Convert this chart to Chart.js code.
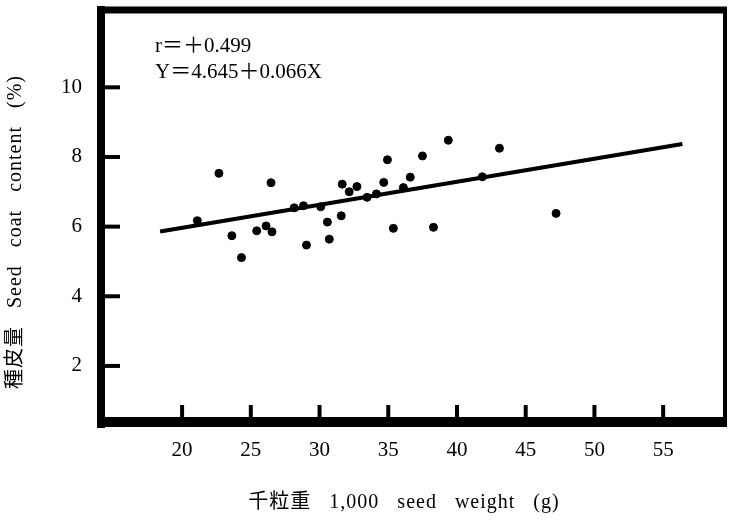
<!DOCTYPE html>
<html>
<head>
<meta charset="utf-8">
<script src="https://cdn.jsdelivr.net/npm/chart.js@4/dist/chart.umd.min.js"></script>
<style>
html,body{margin:0;padding:0;background:#fff;}
#wrap{width:730px;height:520px;}
</style>
</head>
<body>
<div id="wrap"><canvas id="c" width="730" height="520"></canvas></div>
<script>
// ---- data ----
const seedWeight = [22.68, 26.47, 21.11, 23.62, 25.43, 26.11, 26.54, 24.32, 28.16, 28.83, 30.09, 29.05, 30.71, 30.57, 31.58, 31.65, 32.16, 32.72, 33.46, 34.14, 34.67, 34.94, 35.37, 36.10, 36.60, 37.49, 38.29, 39.37, 41.84, 43.09, 47.21];
const coatContent = [7.53, 7.26, 6.17, 5.74, 5.88, 6.02, 5.85, 5.11, 6.54, 6.60, 6.57, 5.47, 5.64, 6.13, 6.31, 7.22, 7.00, 7.15, 6.84, 6.94, 7.27, 7.92, 5.95, 7.12, 7.42, 8.03, 5.98, 8.48, 7.43, 8.25, 6.38];
const fitLineX = [18.4, 56.4];
const fitLineY = [5.86, 8.37];
const xTickValues = [20, 25, 30, 35, 40, 45, 50, 55];
const yTickValues = [2, 4, 6, 8, 10];
const statLines = ['r\uFF1D\uFF0B0.499', 'Y\uFF1D4.645\uFF0B0.066X'];
const xTitle = '千粒重 1,000 seed weight (g)';
const yTitle = '種皮量 Seed coat content (%)';

const FONT = '"Liberation Serif", "Noto Sans CJK JP", serif';

const points = seedWeight.map((x, i) => ({x: x, y: coatContent[i]}));
const fitPts = fitLineX.map((x, i) => ({x: x, y: fitLineY[i]}));

const framePlugin = {
  id: 'frame',
  afterDatasetsDraw(chart) {
    const {ctx, chartArea: a, scales} = chart;
    ctx.save();
    ctx.strokeStyle = '#000';
    ctx.lineCap = 'butt';
    // frame
    ctx.lineWidth = 8;
    ctx.beginPath(); ctx.moveTo(a.left, a.top - 4); ctx.lineTo(a.left, a.bottom + 6); ctx.stroke();
    ctx.lineWidth = 7;
    ctx.beginPath(); ctx.moveTo(a.left - 4, a.top); ctx.lineTo(a.right + 2, a.top); ctx.stroke();
    ctx.lineWidth = 10;
    ctx.beginPath(); ctx.moveTo(a.left - 4, a.bottom); ctx.lineTo(a.right + 2, a.bottom); ctx.stroke();
    ctx.lineWidth = 4;
    ctx.beginPath(); ctx.moveTo(a.right, a.top); ctx.lineTo(a.right, a.bottom); ctx.stroke();
    // inward tick marks
    ctx.lineWidth = 4;
    scales.y.ticks.forEach(t => {
      const py = scales.y.getPixelForValue(t.value);
      ctx.beginPath(); ctx.moveTo(a.left, py); ctx.lineTo(a.left + 19, py); ctx.stroke();
    });
    scales.x.ticks.forEach(t => {
      const px = scales.x.getPixelForValue(t.value);
      ctx.beginPath(); ctx.moveTo(px, a.bottom); ctx.lineTo(px, a.bottom - 17); ctx.stroke();
    });
    // statistics text
    ctx.fillStyle = '#000';
    ctx.font = '21px ' + FONT;
    ctx.textAlign = 'left';
    ctx.textBaseline = 'alphabetic';
    ctx.fillText(statLines[0], a.left + 54, a.top + 42);
    ctx.fillText(statLines[1], a.left + 54, a.top + 68);
    // axis titles
    ctx.font = '20px ' + FONT;
    try { ctx.letterSpacing = '1px'; ctx.wordSpacing = '12px'; } catch (e) {}
    ctx.textAlign = 'center';
    ctx.textBaseline = 'middle';
    ctx.fillText(xTitle, 404, 503);
    ctx.translate(16, 232);
    ctx.rotate(-Math.PI / 2);
    ctx.fillText(yTitle, 0, 0);
    ctx.restore();
  }
};

new Chart(document.getElementById('c'), {
  type: 'scatter',
  data: {
    datasets: [
      {
        type: 'scatter',
        data: points,
        backgroundColor: '#000',
        borderColor: '#000',
        pointRadius: 4,
        pointHoverRadius: 4,
        order: 1
      },
      {
        type: 'line',
        data: fitPts,
        borderColor: '#000',
        borderWidth: 4,
        pointRadius: 0,
        fill: false,
        tension: 0,
        order: 2
      }
    ]
  },
  plugins: [framePlugin],
  options: {
    responsive: false,
    animation: false,
    devicePixelRatio: 1,
    layout: {padding: {top: 10, right: 4, left: 0, bottom: 0}},
    plugins: {legend: {display: false}, tooltip: {enabled: false}},
    scales: {
      x: {
        type: 'linear',
        min: 14.1,
        max: 59.5,
        grid: {display: false, drawTicks: false},
        border: {display: false},
        afterBuildTicks: s => { s.ticks = xTickValues.map(v => ({value: v})); },
        afterFit: s => { s.height = 98; s.paddingLeft = 0; s.paddingRight = 0; },
        ticks: {
          color: '#000',
          padding: 16,
          font: {family: FONT, size: 21},
          callback: v => String(v)
        }
      },
      y: {
        type: 'linear',
        min: 0.39,
        max: 12.22,
        grid: {display: false, drawTicks: false},
        border: {display: false},
        afterBuildTicks: s => { s.ticks = yTickValues.map(v => ({value: v})); },
        afterFit: s => { s.width = 101; s.paddingTop = 0; s.paddingBottom = 0; },
        ticks: {
          color: '#000',
          padding: 19,
          font: {family: FONT, size: 21},
          callback: v => String(v)
        }
      }
    }
  }
});
</script>
</body>
</html>
